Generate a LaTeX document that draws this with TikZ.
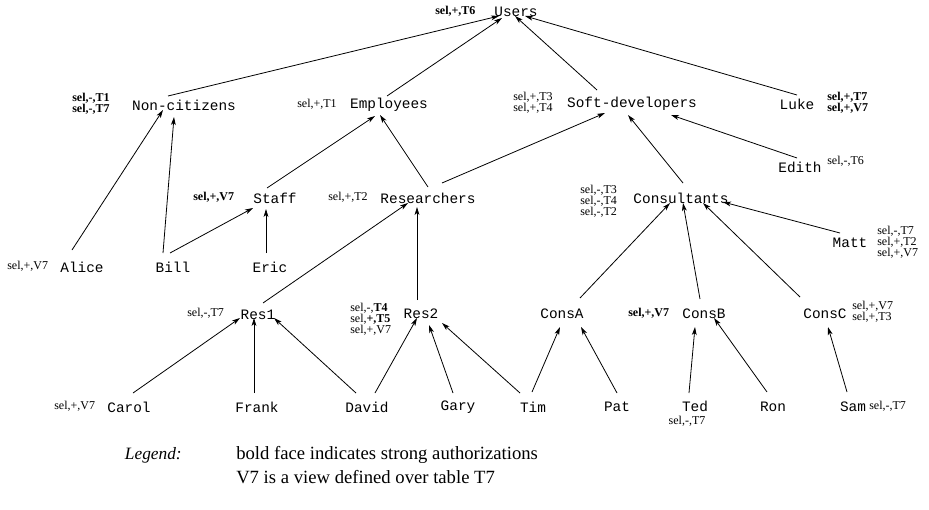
\documentclass[tikz,border=0pt]{standalone}
\usepackage{fontspec}
\setmainfont{Liberation Serif}
\newfontfamily\monof{Liberation Mono}
\usetikzlibrary{arrows.meta,calc}
\tikzset{
  nd/.style={font=\monof\fontsize{10.8}{12}\selectfont, inner sep=1pt},
  lb/.style={font=\fontsize{9}{8.4}\selectfont, inner sep=0pt, align=left, anchor=west},
  lg/.style={font=\fontsize{14}{16}\selectfont, inner sep=0pt},
  arr/.style={draw=black, line width=0.6pt, -{Stealth[length=6pt,width=3.6pt,inset=1.6pt]}}
}
\begin{document}
\begin{tikzpicture}[x=0.75pt,y=-0.75pt]
\useasboundingbox (0,0) rectangle (929,510);
% nodes
\node[nd] (users) at (516,12) {Users};
\node[nd] (nc) at (184,105) {Non-citizens};
\node[nd] (emp) at (389,105) {Employees};
\node[nd] (sd) at (632,104) {Soft-developers};
\node[nd] (luke) at (797,104) {Luke};
\node[nd] (edith) at (800,167) {Edith};
\node[nd] (staff) at (275,198) {Staff};
\node[nd] (res) at (428,198) {Researchers};
\node[nd] (cons) at (681,198) {Consultants};
\node[nd] (matt) at (850,243) {Matt};
\node[nd] (alice) at (82,267) {Alice};
\node[nd] (bill) at (173,267) {Bill};
\node[nd] (eric) at (270,267) {Eric};
\node[nd] (res1) at (258,315) {Res1};
\node[nd] (res2) at (421,314) {Res2};
\node[nd] (consA) at (562,314) {ConsA};
\node[nd] (consB) at (704,314) {ConsB};
\node[nd] (consC) at (825,314) {ConsC};
\node[nd] (carol) at (129,407) {Carol};
\node[nd] (frank) at (257,407) {Frank};
\node[nd] (david) at (367,407) {David};
\node[nd] (gary) at (458,407) {Gary};
\node[nd] (tim) at (533,407) {Tim};
\node[nd] (pat) at (617,407) {Pat};
\node[nd] (ted) at (695,406) {Ted};
\node[nd] (ron) at (773,407) {Ron};
\node[nd] (sam) at (853,407) {Sam};
% labels
\node[lb] (lusers) at (435,11) {\textbf{sel,+,T6}};
\node[lb] (lnc) at (72,104) {\textbf{sel,-,T1}\\\textbf{sel,-,T7}};
\node[lb] (lemp) at (297,104) {sel,+,T1};
\node[lb] (lsd) at (513,103) {sel,+,T3\\sel,+,T4};
\node[lb] (lluke) at (827,103) {\textbf{sel,+,T7}\\\textbf{sel,+,V7}};
\node[lb] (ledith) at (827,161) {sel,-,T6};
\node[lb] (lstaff) at (193,197) {\textbf{sel,+,V7}};
\node[lb] (lres) at (328,197) {sel,+,T2};
\node[lb] (lcons) at (580,201) {sel,-,T3\\sel,-,T4\\sel,-,T2};
\node[lb] (lmatt) at (877,242) {sel,-,T7\\sel,+,T2\\sel,+,V7};
\node[lb] (lalice) at (7,266) {sel,+,V7};
\node[lb] (lres1) at (187,313) {sel,-,T7};
\node[lb] (lres2) at (350,319) {sel,-,\textbf{T4}\\sel,\textbf{+,T5}\\sel,+,V7};
\node[lb] (lconsB) at (628,313) {\textbf{sel,+,V7}};
\node[lb] (lconsC) at (852,312) {sel,+,V7\\sel,+,T3};
\node[lb] (lcarol) at (54,406) {sel,+,V7};
\node[lb, anchor=center] (lted) at (687,421) {sel,-,T7};
\node[lb] (lsam) at (869,406) {sel,-,T7};
% legend
\node[lg, anchor=east, font=\fontsize{13}{16}\selectfont] (leg) at (182,455) {\textit{Legend:}};
\node[lg, anchor=west] (leg1) at (236,455) {bold face indicates strong authorizations};
\node[lg, anchor=west] (leg2) at (236,477) {V7 is a view defined over table T7};
% edges
\draw[arr] ($(nc)+(-16,-9)$) -- ($(users)+(-17,4)$);
\draw[arr] ($(emp)+(-2,-9)$) -- ($(users)+(-14,6)$);
\draw[arr] ($(sd)+(-35,-14)$) -- ($(users)+(-1,4)$);
\draw[arr] ($(luke)+(0,-9)$) -- ($(users)+(9,4)$);
\draw[arr] ($(alice)+(-10,-17)$) -- ($(nc)+(-21,5)$);
\draw[arr] ($(bill)+(-10,-14)$) -- ($(nc)+(-10,12)$);
\draw[arr] ($(bill)+(-3,-14)$) -- ($(staff)+(-22,10)$);
\draw[arr] ($(eric)+(-4,-14)$) -- ($(staff)+(-9,11)$);
\draw[arr] ($(staff)+(-8,-10)$) -- ($(emp)+(-14,11)$);
\draw[arr] ($(res)+(0,-11)$) -- ($(emp)+(-9,10)$);
\draw[arr] ($(res)+(14,-15)$) -- ($(sd)+(-27,9)$);
\draw[arr] ($(cons)+(2,-15)$) -- ($(sd)+(-4,11)$);
\draw[arr] ($(edith)+(-3,-9)$) -- ($(sd)+(39,11)$);
\draw[arr] ($(matt)+(-10,-10)$) -- ($(cons)+(42,4)$);
\draw[arr] ($(consA)+(18,-16)$) -- ($(cons)+(-11,5)$);
\draw[arr] ($(consB)+(-4,-15)$) -- ($(cons)+(2,5)$);
\draw[arr] ($(consC)+(-25,-17)$) -- ($(cons)+(22,5)$);
\draw[arr] ($(res1)+(5,-12)$) -- ($(res)+(-20,5)$);
\draw[arr] ($(res2)+(-4,-14)$) -- ($(res)+(-11,9)$);
\draw[arr] ($(carol)+(4,-14)$) -- ($(res1)+(-18,3)$);
\draw[arr] ($(frank)+(-3,-14)$) -- ($(res1)+(-4,3)$);
\draw[arr] ($(david)+(-11,-14)$) -- ($(res1)+(16,3)$);
\draw[arr] ($(david)+(8,-14)$) -- ($(res2)+(-4,4)$);
\draw[arr] ($(gary)+(-5,-14)$) -- ($(res2)+(8,11)$);
\draw[arr] ($(tim)+(-13,-14)$) -- ($(res2)+(21,9)$);
\draw[arr] ($(tim)+(-1,-15)$) -- ($(consA)+(-2,13)$);
\draw[arr] ($(pat)+(0,-14)$) -- ($(consA)+(19,13)$);
\draw[arr] ($(ted)+(-6,-13)$) -- ($(consB)+(-9,13)$);
\draw[arr] ($(ron)+(-6,-15)$) -- ($(consB)+(10,4)$);
\draw[arr] ($(sam)+(-6,-15)$) -- ($(consC)+(3,13)$);
\end{tikzpicture}
\end{document}
